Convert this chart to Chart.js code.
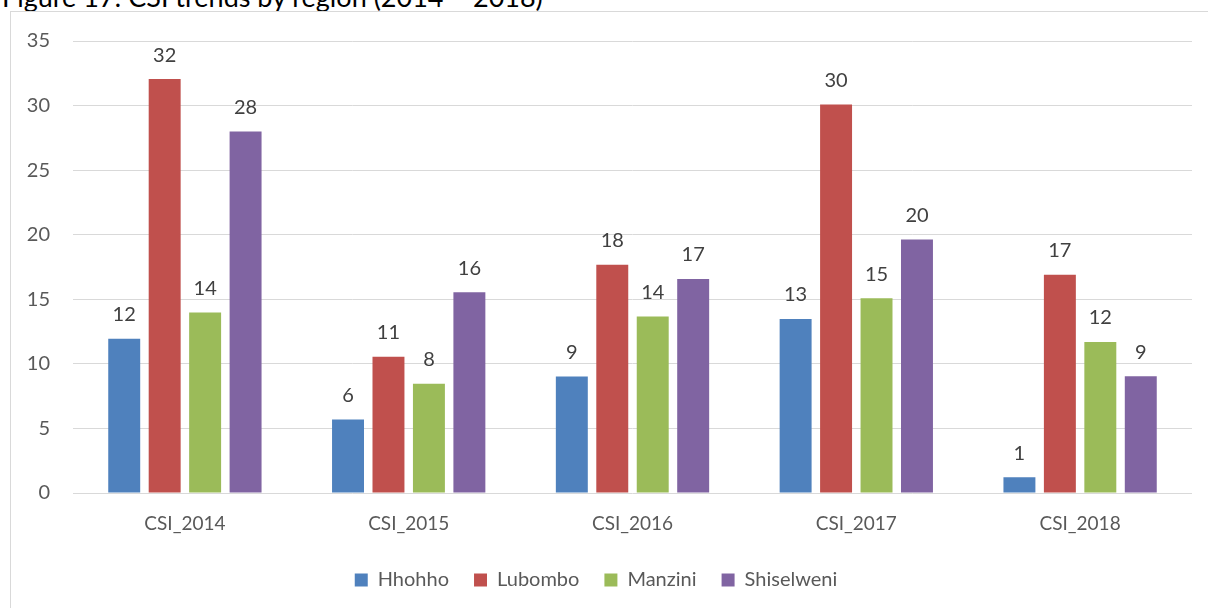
<!DOCTYPE html>
<html>
<head>
<meta charset="utf-8">
<script src="https://cdn.jsdelivr.net/npm/chart.js@4.4.1/dist/chart.umd.min.js"></script>
<style>
  html, body { margin: 0; padding: 0; background: #fff; width: 1208px; height: 608px; overflow: hidden; }
  #title { position: absolute; left: 2px; top: -20px; font-family: Lato, "Open Sans", sans-serif; font-size: 27px; color: #000; white-space: nowrap; }
  #frame { position: absolute; left: 10px; top: 11px; width: 1240px; height: 640px; border: 1px solid #d9d9d9; box-sizing: border-box; }
  #wrap { position: absolute; left: 0; top: 0; width: 1208px; height: 608px; }
</style>
</head>
<body>
<div id="title">Figure 17: CSI trends by region (2014 – 2018)</div>
<div id="frame"></div>
<div id="wrap"><canvas id="c" width="1208" height="608"></canvas></div>
<script>
const categories = ["CSI_2014", "CSI_2015", "CSI_2016", "CSI_2017", "CSI_2018"];
const seriesNames = ["Hhohho", "Lubombo", "Manzini", "Shiselweni"];
const hhohho = [11.95, 5.69, 9.03, 13.48, 1.22];
const lubombo = [32.05, 10.55, 17.67, 30.08, 16.9];
const manzini = [13.97, 8.46, 13.66, 15.08, 11.69];
const shiselweni = [28.0, 15.55, 16.58, 19.63, 9.05];
const yTicks = [0, 5, 10, 15, 20, 25, 30, 35];
const colors = ["#4F81BD", "#C0504D", "#9BBB59", "#8064A2"];

const FONT = "Lato, 'Open Sans', sans-serif";

const valueLabels = {
  id: 'valueLabels',
  afterDatasetsDraw(chart) {
    const ctx = chart.ctx;
    ctx.save();
    ctx.font = "20px " + FONT;
    ctx.fillStyle = "#404040";
    ctx.textAlign = "center";
    ctx.textBaseline = "middle";
    chart.data.datasets.forEach((ds, i) => {
      const meta = chart.getDatasetMeta(i);
      meta.data.forEach((bar, j) => {
        ctx.fillText(String(Math.round(ds.data[j])), bar.x, bar.y - 24);
      });
    });
    ctx.restore();
  }
};

const allSeries = [hhohho, lubombo, manzini, shiselweni];
new Chart(document.getElementById('c'), {
  type: 'bar',
  data: {
    labels: categories,
    datasets: allSeries.map((d, i) => ({
      label: seriesNames[i],
      data: d,
      backgroundColor: colors[i],
      borderWidth: 0,
      categoryPercentage: 0.723,
      barPercentage: 0.79
    }))
  },
  options: {
    responsive: false,
    animation: false,
    devicePixelRatio: 1,
    layout: { padding: { top: 41, right: 16, bottom: 8, left: 0 } },
    plugins: {
      title: { display: false },
      tooltip: { enabled: false },
      legend: {
        position: 'bottom',
        labels: {
          boxWidth: 13, boxHeight: 13,
          color: "#595959",
          font: { family: FONT, size: 20 },
          padding: 25
        }
      }
    },
    scales: {
      x: {
        afterFit(scale) { scale.height = 52; },
        grid: { display: false, drawTicks: false },
        border: { display: false },
        ticks: { color: "#595959", font: { family: FONT, size: 19 }, padding: 19 }
      },
      y: {
        min: 0, max: 35,
        afterBuildTicks(scale) { scale.ticks = yTicks.map(v => ({ value: v })); },
        afterFit(scale) { scale.width = 73; },
        grid: { color: "#d9d9d9", lineWidth: 1, drawTicks: false },
        border: { display: false },
        ticks: { color: "#595959", font: { family: FONT, size: 20 }, padding: 23 }
      }
    }
  },
  plugins: [valueLabels]
});
</script>
</body>
</html>
